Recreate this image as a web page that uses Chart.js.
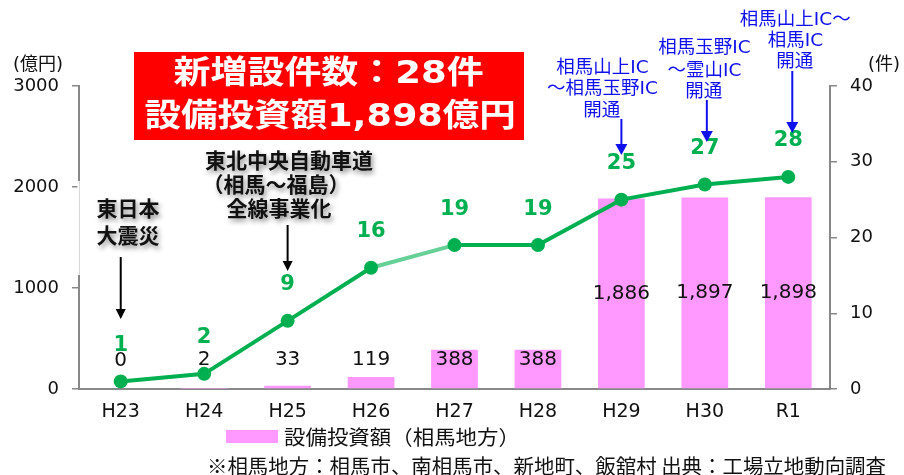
<!DOCTYPE html>
<html><head><meta charset="utf-8">
<script src="https://cdn.jsdelivr.net/npm/chart.js@4"></script>
<style>html,body{margin:0;padding:0;background:#fff}#wrap{position:relative;width:904px;height:475px}canvas{display:block}</style>
</head><body><div id="wrap"><canvas id="c" width="904" height="475" style="width:904px;height:475px"></canvas></div>
<script>
const categories = ['H23','H24','H25','H26','H27','H28','H29','H30','R1'];
const investment = [0, 2, 33, 119, 388, 388, 1886, 1897, 1898];
const facilityCount = [1, 2, 9, 16, 19, 19, 25, 27, 28];
const leftTicks = [0, 1000, 2000, 3000];
const rightTicks = [0, 10, 20, 30, 40];
const legendLabel = '設備投資額（相馬地方）';
const footnote = '※相馬地方：相馬市、南相馬市、新地町、飯舘村 出典：工場立地動向調査';

const GREEN = '#00b050';
const PINK = '#ff99ff';
const AXIS = '#888888';
const MIX = '"DejaVu Sans", "Noto Sans CJK JP", sans-serif';
const CJK = '"Noto Sans CJK JP", sans-serif';

function inkText(ctx, text, leftX, y, targetW) {
  ctx.save();
  ctx.textAlign = 'left';
  ctx.textBaseline = 'middle';
  const m = ctx.measureText(text);
  const w = m.actualBoundingBoxLeft + m.actualBoundingBoxRight;
  const sx = targetW ? targetW / w : 1;
  ctx.translate(leftX, y);
  ctx.scale(sx, 1);
  ctx.fillText(text, m.actualBoundingBoxLeft, 0);
  ctx.restore();
}
function inkCenter(ctx, text, cx, y, targetW) {
  ctx.save();
  ctx.textBaseline = 'middle';
  const m = ctx.measureText(text);
  const w = m.actualBoundingBoxLeft + m.actualBoundingBoxRight;
  const tw = targetW || w;
  ctx.restore();
  inkText(ctx, text, cx - tw / 2, y, targetW);
}
function arrow(ctx, x, y1, y2, color, lw, hw, hl) {
  ctx.save();
  ctx.strokeStyle = color; ctx.fillStyle = color; ctx.lineWidth = lw;
  ctx.beginPath(); ctx.moveTo(x, y1); ctx.lineTo(x, y2 - hl + 1); ctx.stroke();
  ctx.beginPath(); ctx.moveTo(x - hw / 2, y2 - hl); ctx.lineTo(x + hw / 2, y2 - hl); ctx.lineTo(x, y2); ctx.closePath(); ctx.fill();
  ctx.restore();
}

const labelPlugin = {
  id: 'labels',
  afterDatasetsDraw(chart) {
    const ctx = chart.ctx;
    const barMeta = chart.getDatasetMeta(0);
    ctx.save();
    ctx.fillStyle = '#111';
    ctx.font = '20px "DejaVu Sans"';
    ctx.textAlign = 'center';
    ctx.textBaseline = 'middle';
    barMeta.data.forEach((bar, i) => {
      const y = Math.min((bar.y + bar.base) / 2, bar.base - 28);
      ctx.fillText(investment[i].toLocaleString('en-US'), bar.x, y);
    });
    const lineMeta = chart.getDatasetMeta(1);
    ctx.fillStyle = GREEN;
    ctx.font = 'bold 21px "DejaVu Sans"';
    lineMeta.data.forEach((pt, i) => {
      ctx.fillText(String(facilityCount[i]), pt.x, pt.y - 36);
    });
    ctx.restore();
  },
  afterDraw(chart) {
    const ctx = chart.ctx;
    const xs = chart.scales.x;
    ctx.save();
    // white patch over left axis (as in reference)
    ctx.fillStyle = '#fff';
    ctx.fillRect(77.5, 181, 3.5, 94);
    ctx.strokeStyle = '#d8d8d8'; ctx.lineWidth = 1;
    ctx.beginPath(); ctx.moveTo(79.5, 181); ctx.lineTo(79.5, 275); ctx.stroke();

    // unit labels
    ctx.fillStyle = '#111';
    ctx.font = '18px ' + MIX;
    ctx.textBaseline = 'middle';
    ctx.textAlign = 'left';
    ctx.fillText('(億円)', 13, 65);
    ctx.fillText('(件)', 868, 65);

    // red summary box
    ctx.fillStyle = '#ff0000';
    ctx.fillRect(134, 52, 390, 88);
    ctx.fillStyle = '#ffffff';
    ctx.font = 'bold 32px ' + MIX;
    inkCenter(ctx, '新増設件数：28件', 328, 75, 309);
    inkCenter(ctx, '設備投資額1,898億円', 329, 118, 369);

    // black annotations with shadow
    ctx.save();
    ctx.fillStyle = '#111';
    ctx.shadowColor = 'rgba(0,0,0,0.45)';
    ctx.shadowBlur = 5; ctx.shadowOffsetX = 2; ctx.shadowOffsetY = 3;
    ctx.font = 'bold 21px ' + CJK;
    inkCenter(ctx, '東日本', 128, 208);
    inkCenter(ctx, '大震災', 128, 235);
    inkCenter(ctx, '東北中央自動車道', 289, 160);
    inkCenter(ctx, '（相馬～福島）', 276, 184);
    inkCenter(ctx, '全線事業化', 279, 208);
    ctx.restore();
    arrow(ctx, xs.getPixelForValue(0), 257, 319, '#000', 2, 10, 10);
    arrow(ctx, xs.getPixelForValue(2), 225, 271, '#000', 2, 10, 10);

    // blue annotations
    const BLUE = '#1010ee';
    ctx.fillStyle = BLUE;
    ctx.font = '18.5px ' + MIX;
    inkCenter(ctx, '相馬山上IC', 602, 68);
    inkCenter(ctx, '～相馬玉野IC', 602, 89);
    inkCenter(ctx, '開通', 602, 111);
    arrow(ctx, xs.getPixelForValue(6), 119, 155, BLUE, 2, 12, 11);
    inkCenter(ctx, '相馬玉野IC', 704, 48);
    inkCenter(ctx, '～霊山IC', 704, 71);
    inkCenter(ctx, '開通', 704, 92);
    arrow(ctx, xs.getPixelForValue(7) + 2, 100, 142, BLUE, 2, 12, 11);
    inkCenter(ctx, '相馬山上IC～', 795, 20);
    inkCenter(ctx, '相馬IC', 795, 41);
    inkCenter(ctx, '開通', 795, 62);
    arrow(ctx, xs.getPixelForValue(8) + 4, 71, 133, BLUE, 2, 12, 11);

    // legend
    ctx.fillStyle = PINK;
    ctx.fillRect(226, 430, 52, 13);
    ctx.fillStyle = '#111';
    ctx.font = '20px ' + CJK;
    inkText(ctx, legendLabel, 284, 437, 222);

    // footnote
    ctx.font = '20px ' + CJK;
    inkText(ctx, footnote, 209, 466, 677);
    ctx.restore();
  }
};

new Chart(document.getElementById('c'), {
  type: 'bar',
  data: {
    labels: categories,
    datasets: [
      {
        type: 'bar',
        label: legendLabel,
        data: investment,
        yAxisID: 'y',
        backgroundColor: PINK,
        categoryPercentage: 1,
        barPercentage: 0.56,
        order: 2
      },
      {
        type: 'line',
        label: '件数',
        data: facilityCount,
        yAxisID: 'y1',
        borderColor: GREEN,
        backgroundColor: GREEN,
        borderWidth: 4,
        pointRadius: 7,
        pointBorderWidth: 0,
        pointBackgroundColor: GREEN,
        tension: 0,
        segment: {
          borderColor: c => (c.p0DataIndex === 3 ? 'rgba(0,176,80,0.6)' : undefined)
        },
        order: 1
      }
    ]
  },
  options: {
    responsive: false,
    animation: false,
    layout: { padding: { top: 86, left: 0, right: 0, bottom: 0 } },
    plugins: { legend: { display: false }, tooltip: { enabled: false }, title: { display: false } },
    scales: {
      x: {
        grid: { display: false, drawTicks: false },
        border: { display: true, color: AXIS, width: 2 },
        ticks: { color: '#111', font: { family: '"DejaVu Sans"', size: 19 }, padding: 12, maxRotation: 0 },
        afterFit: s => { s.height = 86; }
      },
      y: {
        position: 'left', min: 0, max: 3000,
        afterBuildTicks: s => { s.ticks = leftTicks.map(v => ({ value: v })); },
        ticks: { color: '#111', font: { family: '"DejaVu Sans"', size: 18 }, padding: 13, callback: v => String(v) },
        grid: { display: true, drawOnChartArea: false, drawTicks: true, tickLength: 7, color: AXIS, lineWidth: 1.5 },
        border: { display: true, color: AXIS, width: 2 },
        afterFit: s => { s.width = 79; }
      },
      y1: {
        position: 'right', min: 0, max: 40,
        afterBuildTicks: s => { s.ticks = rightTicks.map(v => ({ value: v })); },
        ticks: { color: '#111', font: { family: '"DejaVu Sans"', size: 18 }, padding: 13, callback: v => String(v) },
        grid: { display: true, drawOnChartArea: false, drawTicks: true, tickLength: 7, color: AXIS, lineWidth: 1.5 },
        border: { display: true, color: AXIS, width: 2 },
        afterFit: s => { s.width = 74; }
      }
    }
  },
  plugins: [labelPlugin]
});
</script>
</body></html>
